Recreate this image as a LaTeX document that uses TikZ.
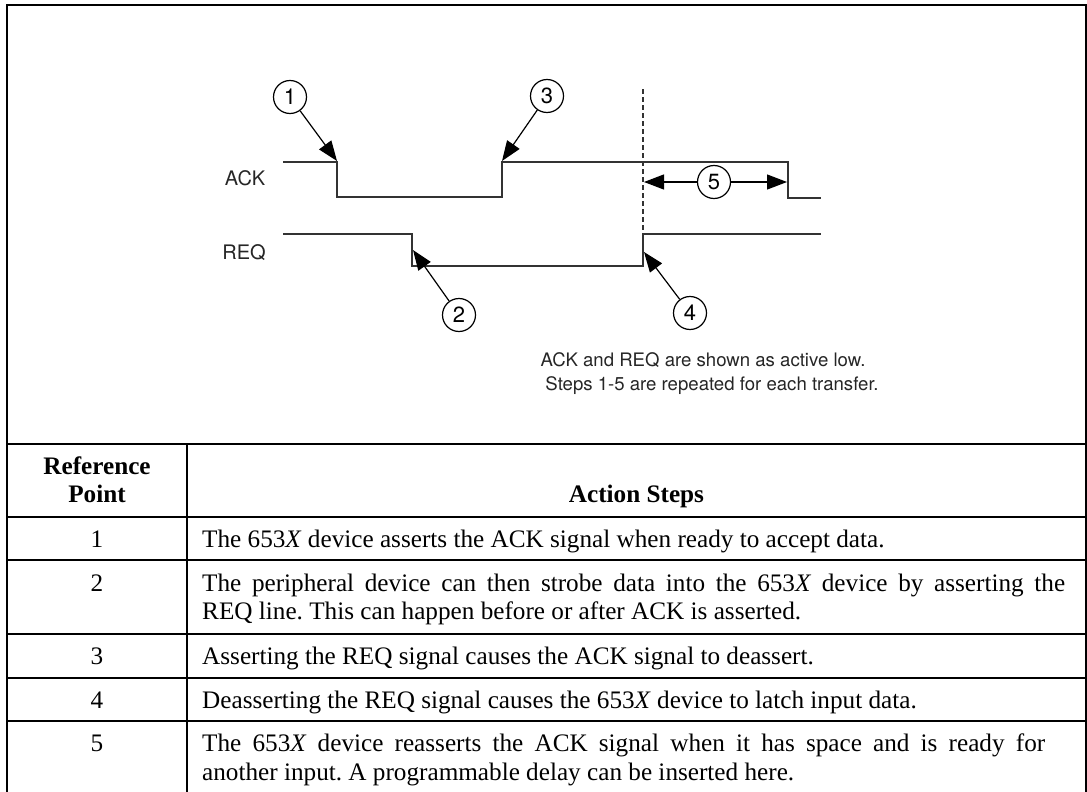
\documentclass[tikz,border=0pt]{standalone}
\usepackage{fontspec}
\setmainfont{Liberation Serif}
\newfontfamily\hv{TeX Gyre Heros}
\usetikzlibrary{arrows.meta}
\newcommand{\wideline}[2]{\makebox[#1][s]{#2}}
\frenchspacing
\begin{document}
\begin{tikzpicture}[x=1pt,y=-1pt,
  frame/.style={line width=2pt,black},
  sig/.style={line width=1.3pt,black!80,line join=miter},
  num/.style={circle,draw,line width=1.2pt,minimum size=33pt,inner sep=0pt,font=\hv\fontsize{22}{24}\selectfont},
  pointer/.style={line width=1.2pt,-{Triangle[length=20pt,width=15pt]}},
  lbl/.style={font=\hv\fontsize{20}{24}\selectfont,text=black!85,inner sep=0pt},
  note/.style={font=\hv\fontsize{18.6}{24}\selectfont,text=black!85,inner sep=0pt,anchor=base},
  cell/.style={font=\fontsize{25.2}{28}\selectfont,anchor=base west,inner sep=0pt},
  numcell/.style={font=\fontsize{25.2}{28}\selectfont,anchor=base,inner sep=0pt},
  head/.style={font=\bfseries\fontsize{25.2}{28}\selectfont,anchor=base,inner sep=0pt}]
\useasboundingbox (0,0) rectangle (1087,792);
% outer frame
\draw[frame] (7,792) -- (7,5) -- (1086,5) -- (1086,792);
% table rules
\foreach \yy in {444,517,560,634,678,721}
  \draw[frame] (7,\yy) -- (1086,\yy);
\draw[frame] (187,444) -- (187,792);
% signals
\draw[sig] (283,162) -- (337,162) -- (337,197) -- (502,197) -- (502,162) -- (788,162) -- (788,198) -- (821,198);
\draw[sig] (283,234) -- (412,234) -- (412,266) -- (643,266) -- (643,234) -- (821,234);
\draw[line width=1.1pt,dash pattern=on 5pt off 3pt,black!80] (643,89) -- (643,234);
\node[lbl] (ack) at (245,178) {ACK};
\node[lbl] (req) at (244,253) {REQ};
% reference circles
\node[num] (c1) at (290,97) {1};
\node[num] (c2) at (459,315) {2};
\node[num] (c3) at (547,96) {3};
\node[num] (c4) at (690,313) {4};
\node[num] (c5) at (714,182) {5};
\coordinate (t1) at (337,161);
\coordinate (t2) at (413,250);
\coordinate (t3) at (502,161);
\coordinate (t4) at (644,252);
\coordinate (t5a) at (644,182);
\coordinate (t5b) at (787,182);
\draw[pointer] (c1) -- (t1);
\draw[pointer] (c2) -- (t2);
\draw[pointer] (c3) -- (t3);
\draw[pointer] (c4) -- (t4);
\draw[pointer] (c5) -- (t5a);
\draw[pointer] (c5) -- (t5b);
% notes
\node[note] (n1) at (703,366) {ACK and REQ are shown as active low.};
\node[note] (n2) at (712,390) {Steps 1-5 are repeated for each transfer.};
% table header
\node[head] (h1) at (97,474.5) {Reference};
\node[head] (h2) at (97,502.5) {Point};
\node[head] (h3) at (636.5,502.5) {Action Steps};
% rows
\node[numcell] (k1) at (97,547) {1};
\node[cell] (r1) at (202,547) {The 653\textit{X} device asserts the ACK signal when ready to accept data.};
\node[numcell] (k2) at (97,591.5) {2};
\node[cell] (r2a) at (202,591.5) {\wideline{863pt}{The peripheral device can then strobe data into the 653\textit{X} device by asserting the}};
\node[cell] (r2b) at (202,619.5) {REQ line. This can happen before or after ACK is asserted.};
\node[numcell] (k3) at (97,664.5) {3};
\node[cell] (r3) at (202,664.5) {Asserting the REQ signal causes the ACK signal to deassert.};
\node[numcell] (k4) at (97,708) {4};
\node[cell] (r4) at (202,708) {Deasserting the REQ signal causes the 653\textit{X} device to latch input data.};
\node[numcell] (k5) at (97,751.5) {5};
\node[cell] (r5a) at (202,751.5) {\wideline{843pt}{The 653\textit{X} device reasserts the ACK signal when it has space and is ready for}};
\node[cell] (r5b) at (202,780.5) {another input. A programmable delay can be inserted here.};
\end{tikzpicture}
\end{document}
